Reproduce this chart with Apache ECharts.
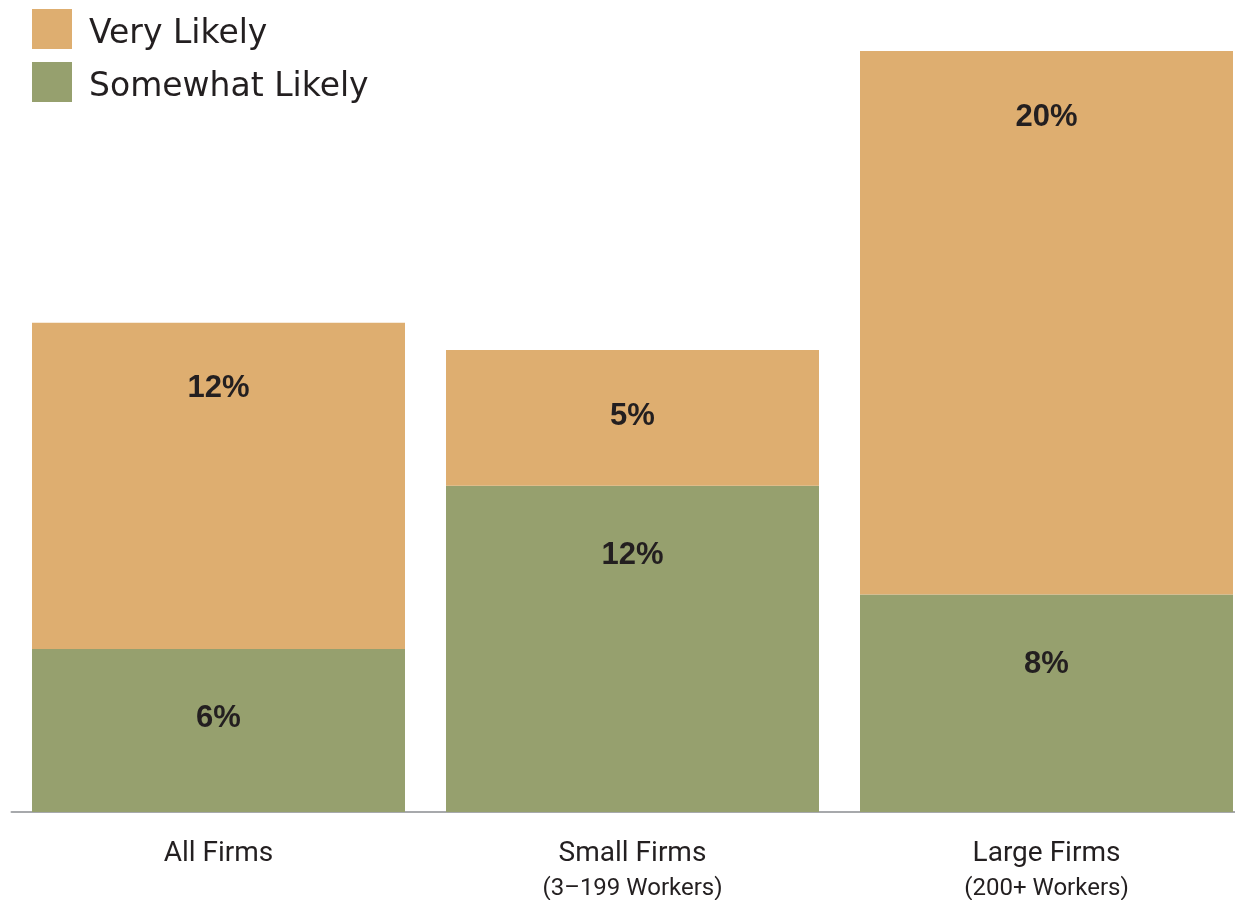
<!DOCTYPE html>
<html>
<head>
<meta charset="utf-8">
<script src="https://cdn.jsdelivr.net/npm/echarts@6/dist/echarts.min.js"></script>
<style>
  html, body { margin: 0; padding: 0; background: #ffffff; }
  #chart { width: 1235px; height: 900px; }
</style>
</head>
<body>
<div id="chart"></div>
<script>
// Firm groups and their subtitles (worker counts)
const categories = ['All Firms', 'Small Firms', 'Large Firms'];
const subtitles = ['', '(3\u2013199 Workers)', '(200+ Workers)'];

// Share of firms (%) by likelihood
const somewhatLikely = [6, 12, 8];
const veryLikely = [12, 5, 20];

const ORANGE = '#DEAE70';
const GREEN = '#96A06E';
const TEXT = '#231F20';

const chart = echarts.init(document.getElementById('chart'));

function valueLabel(offsetFromTop) {
  return {
    show: true,
    position: ['50%', offsetFromTop],
    align: 'center',
    verticalAlign: 'middle',
    formatter: p => p.value + '%',
    fontFamily: '"Liberation Sans", Arial, sans-serif',
    fontWeight: 'bold',
    fontSize: 31,
    color: TEXT
  };
}

chart.setOption({
  animation: false,
  legend: {
    data: ['Very Likely', 'Somewhat Likely'],
    orient: 'vertical',
    left: 32,
    top: 9,
    padding: 0,
    itemWidth: 40,
    itemHeight: 40,
    itemGap: 11,
    icon: 'rect',
    formatter: '{t|{name}}',
    textStyle: {
      rich: {
        t: {
          fontFamily: '"DejaVu Sans", sans-serif',
          fontSize: 33,
          color: TEXT,
          padding: [11, 0, 0, 12]
        }
      }
    }
  },
  grid: {
    left: 11.5,
    top: 51,
    width: 1242,
    bottom: 88,
    containLabel: false,
    outerBoundsMode: 'none'
  },
  xAxis: {
    type: 'category',
    data: categories,
    axisTick: { show: false },
    axisLine: { show: true, lineStyle: { color: '#A7A9AC', width: 2 } },
    axisLabel: {
      margin: 24,
      interval: 0,
      formatter: (v, i) => subtitles[i] ? '{a|' + v + '}\n{b|' + subtitles[i] + '}' : '{a|' + v + '}',
      rich: {
        a: { fontFamily: 'Roboto, sans-serif', fontSize: 28, color: TEXT, lineHeight: 36 },
        b: { fontFamily: 'Roboto, sans-serif', fontSize: 24, color: TEXT, lineHeight: 34 }
      }
    }
  },
  yAxis: {
    type: 'value',
    min: 0,
    max: 28,
    show: false,
    splitLine: { show: false }
  },
  series: [
    {
      name: 'Somewhat Likely',
      type: 'bar',
      stack: 'total',
      barWidth: 373,
      data: somewhatLikely,
      itemStyle: { color: GREEN },
      label: valueLabel(70)
    },
    {
      name: 'Very Likely',
      type: 'bar',
      stack: 'total',
      barWidth: 373,
      data: veryLikely,
      itemStyle: { color: ORANGE },
      label: valueLabel(66)
    }
  ]
});
</script>
</body>
</html>
